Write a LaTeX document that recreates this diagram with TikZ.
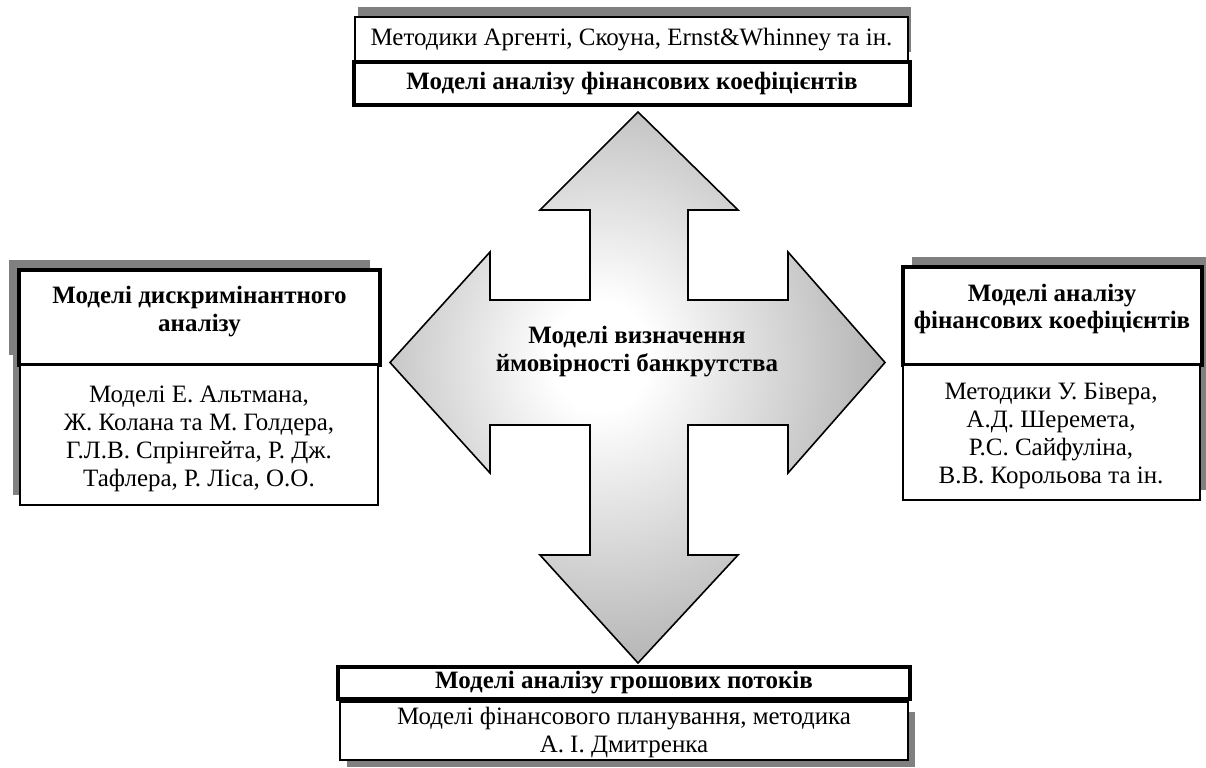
\documentclass[tikz,border=0pt]{standalone}
\usepackage{fontspec}
\setmainfont{Liberation Serif}

\pgfdeclareradialshading{crossglow}{\pgfpoint{-4bp}{3bp}}{color(0bp)=(white); color(5bp)=(white); color(50bp)=(black!58); color(100bp)=(black!58)}

\begin{document}
\begin{tikzpicture}[x=0.0176cm, y=-0.0176cm]
    \tikzstyle{txt}        = [font=\fontsize{12.5}{14}\selectfont, align=center, inner sep=0pt]
    \tikzstyle{head}       = [txt, font=\fontsize{12.5}{14}\selectfont\bfseries]
    \tikzstyle{plainbox}   = [draw, fill=white, line width=0.6pt]
    \tikzstyle{boldbox}    = [draw, fill=white, line width=1.6pt]
    \tikzstyle{shadowgrey} = [fill=black!50]

    \useasboundingbox (0,0) rectangle (1206,767);
    \clip (0,0) rectangle (1206,767);

    % top
    \fill[shadowgrey] (358,7) rectangle (911,52);
    \draw[plainbox] (355,17) rectangle (908,62)
        node[pos=.5, txt] (topnote) {Методики Аргенті, Скоуна, Ernst\&Whinney та ін.};
    \draw[boldbox] (354,62) rectangle (910,105)
        node[pos=.5, head] (toptitle) {Моделі аналізу фінансових коефіцієнтів};

    % left
    \fill[shadowgrey] (9,260) rectangle (370,355);
    \fill[shadowgrey] (13,355) rectangle (371,495);
    \draw[boldbox] (19,270) rectangle (380,365)
        node[head] (lefttitle) at (199.5,312) {Моделі дискримінантного\\аналізу};
    \draw[plainbox] (20,365) rectangle (378,505)
        node[txt] (leftnote) at (199,439) {Моделі Е. Альтмана,\\Ж. Колана та М. Голдера,\\Г.Л.В. Спрінгейта, Р. Дж.\\Тафлера, Р. Ліса, О.О.};

    % right
    \fill[shadowgrey] (912,257) rectangle (1212,355);
    \fill[shadowgrey] (909,355) rectangle (1206,490);
    \draw[boldbox] (903,267) rectangle (1202,365)
        node[head] (righttitle) at (1052,309) {Моделі аналізу\\фінансових коефіцієнтів};
    \draw[plainbox] (903,365) rectangle (1200,500)
        node[txt] (rightnote) at (1051,436) {Методики У. Бівера,\\А.Д. Шеремета,\\Р.С. Сайфуліна,\\В.В. Корольова та ін.};

    % bottom
    \fill[shadowgrey] (347,712) rectangle (915,767);
    \draw[boldbox] (338,667) rectangle (910,699)
        node[pos=.5, head] (bottomtitle) {Моделі аналізу грошових потоків};
    \draw[plainbox] (340,702) rectangle (908,760)
        node[txt] (bottomnote) at (624,732) {Моделі фінансового планування, методика\\А. І. Дмитренка};

    % cross
    \shadedraw[shading=crossglow, line width=0.8pt]
        (638,112) -- (738,210) -- (688,210) -- (688,300) -- (788,300) -- (788,252)
        -- (885,362.5) -- (788,473) -- (788,425) -- (688,425) -- (688,555) -- (738,555)
        -- (638,663) -- (540,555) -- (590,555) -- (590,425) -- (490,425) -- (490,473)
        -- (390,362.5) -- (490,252) -- (490,300) -- (590,300) -- (590,210) -- (540,210) -- cycle;
    \node[head] (core) at (637,352) {Моделі визначення\\ймовірності банкрутства};

\end{tikzpicture}
\end{document}
